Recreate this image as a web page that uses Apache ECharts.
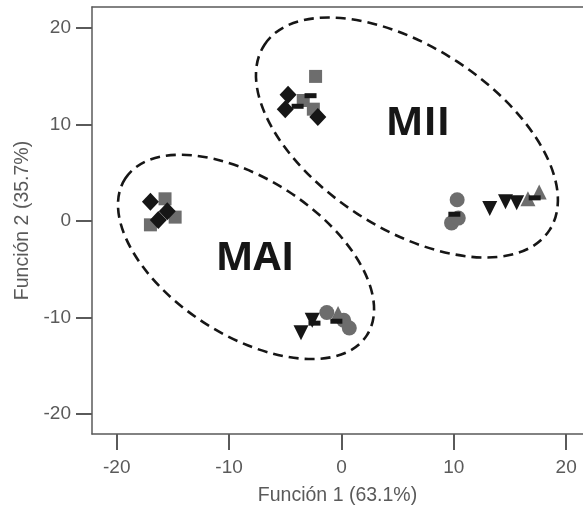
<!DOCTYPE html>
<html>
<head>
<meta charset="utf-8">
<script src="https://cdn.jsdelivr.net/npm/echarts@6/dist/echarts.min.js"></script>
<style>html,body{margin:0;padding:0;background:#fff}#c{width:583px;height:513px}</style>
</head>
<body>
<div id="c"></div>
<script>
// Tick labels
const xTicks = [-20, -10, 0, 10, 20];
const yTicks = [-20, -10, 0, 10, 20];
// Series values [Función 1, Función 2]
const diamondPts = [[-17.0, 2.0], [-16.3, 0.1], [-15.5, 1.0], [-4.75, 13.1], [-5.0, 11.6], [-2.1, 10.8]];
const squarePts = [[-15.7, 2.3], [-17.0, -0.4], [-14.8, 0.4], [-2.3, 15.0], [-3.4, 12.5], [-2.5, 11.6]];
const circlePts = [[-1.3, -9.5], [0.2, -10.3], [0.7, -11.1], [10.3, 2.2], [9.8, -0.2], [10.4, 0.3]];
const triUpPts = [[-0.3, -9.6], [16.6, 2.3], [17.6, 3.0]];
const triDownPts = [[-3.6, -11.6], [-2.6, -10.3], [13.2, 1.3], [14.6, 2.0], [15.6, 1.9]];
const barPts = [[-2.75, 13.0], [-3.9, 11.9], [-2.4, -10.6], [-0.45, -10.4], [10.05, 0.7], [17.2, 2.4]];
// Group annotations
const groupNames = ['MII', 'MAI'];
const groupLabelPos = [[6.8, 10.1], [-7.7, -3.95]];
const ellipseCenters = [[5.83, 8.66], [-8.49, -3.73]];

const BLACK = '#161616', GRAY = '#6d6d6d', AXIS = '#5a5a5a';
const font = '"Liberation Sans", Arial, sans-serif';

const chart = echarts.init(document.getElementById('c'), null, {renderer: 'canvas'});
function sc(name, data, symbol, size, color, z, rot) {
  return {type: 'scatter', name, data, symbol, symbolSize: size, symbolRotate: rot || 0,
    itemStyle: {color, opacity: 1}, z, emphasis: {disabled: true}, silent: true};
}
chart.setOption({
  animation: false,
  grid: {left: 92, top: 7, right: 0, bottom: 79, show: false},
  xAxis: [{
    type: 'value', min: -22.2, max: 21.5, position: 'bottom',
    name: 'Función 1 (63.1%)', nameLocation: 'middle', nameGap: 52,
    nameTextStyle: {color: AXIS, fontSize: 19.5, fontFamily: font},
    axisLine: {show: true, onZero: false, lineStyle: {color: AXIS, width: 1.5}},
    axisTick: {show: true, length: 16, customValues: xTicks, lineStyle: {color: AXIS, width: 2}},
    axisLabel: {customValues: xTicks, color: AXIS, fontSize: 19, fontFamily: font, margin: 24},
    splitLine: {show: false}
  }, {
    type: 'value', min: -22.2, max: 21.5, position: 'top',
    axisLine: {show: true, onZero: false, lineStyle: {color: AXIS, width: 1.5}},
    axisTick: {show: false}, axisLabel: {show: false}, splitLine: {show: false}
  }],
  yAxis: {
    type: 'value', min: -22.1, max: 22.2,
    name: 'Función 2 (35.7%)', nameLocation: 'middle', nameGap: 58,
    nameTextStyle: {color: AXIS, fontSize: 19.5, fontFamily: font},
    axisLine: {show: true, onZero: false, lineStyle: {color: AXIS, width: 1.5}},
    axisTick: {show: true, length: 16, customValues: yTicks, lineStyle: {color: AXIS, width: 2}},
    axisLabel: {customValues: yTicks, color: AXIS, fontSize: 19, fontFamily: font, margin: 21},
    splitLine: {show: false}
  },
  series: [
    sc('squares', squarePts, 'rect', 13, GRAY, 2),
    sc('circles', circlePts, 'circle', 15, GRAY, 3),
    sc('triUp', triUpPts, 'triangle', 15, GRAY, 4),
    sc('diamonds', diamondPts, 'diamond', [17, 18], BLACK, 5),
    sc('triDown', triDownPts, 'triangle', 15, BLACK, 6, 180),
    sc('bars', barPts, 'rect', [12, 5], BLACK, 7)
  ]
});

const ellipseRadii = [[170, 91], [144, 78]];
const tilt = -33 * Math.PI / 180;
const graphics = [];
ellipseCenters.forEach((c, i) => {
  const p = chart.convertToPixel({xAxisIndex: 0, yAxisIndex: 0}, c);
  graphics.push({type: 'ellipse', x: p[0], y: p[1], rotation: tilt, silent: true, z: 10,
    shape: {cx: 0, cy: 0, rx: ellipseRadii[i][0], ry: ellipseRadii[i][1]},
    style: {fill: null, stroke: BLACK, lineWidth: 2.6, lineDash: [10, 6]}});
});
groupNames.forEach((n, i) => {
  const p = chart.convertToPixel({xAxisIndex: 0, yAxisIndex: 0}, groupLabelPos[i]);
  graphics.push({type: 'text', x: p[0], y: p[1], silent: true, z: 10,
    style: {text: n, fill: BLACK, font: 'bold 40px "Open Sans", sans-serif', align: 'center', verticalAlign: 'middle'}});
});
chart.setOption({graphic: graphics});
</script>
</body>
</html>
